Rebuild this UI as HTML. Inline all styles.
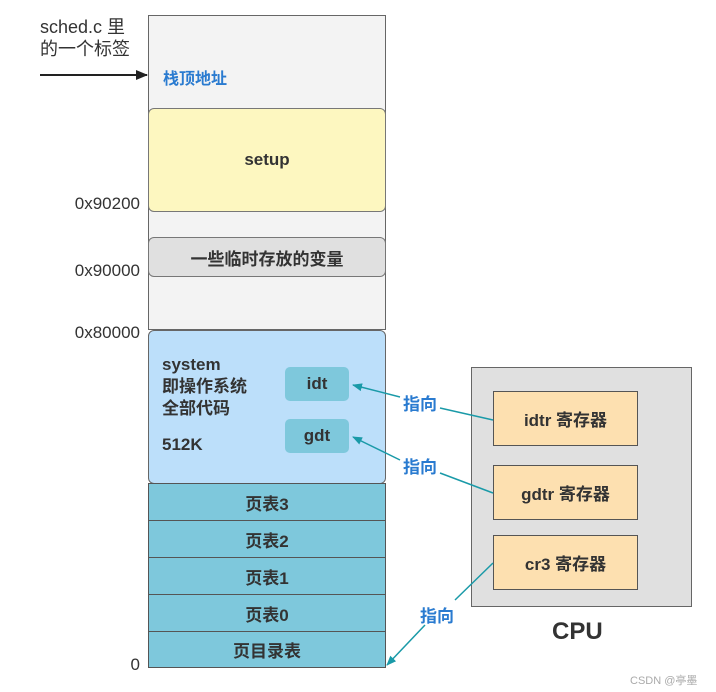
<!DOCTYPE html>
<html><head><meta charset="utf-8"><style>
body{margin:0;width:716px;height:692px;background:#fff;position:relative;overflow:hidden;font-family:"Liberation Sans","Noto Sans CJK SC",sans-serif;}
.a{position:absolute;box-sizing:border-box;}
.c{display:flex;align-items:center;justify-content:center;font-weight:bold;color:#333;font-size:17px;}
.lab{position:absolute;font-size:17px;color:#333;text-align:right;width:100px;}
.pt{background:#7ec8dc;border:1.5px solid #555;left:148px;width:238px;}
.reg{background:#fde0b0;border:1.5px solid #555;left:493px;width:145px;height:55px;}
</style></head><body>
<div class="a" style="left:148px;top:15px;width:238px;height:315px;background:#f3f3f3;border:1.5px solid #666;"></div>
<div class="a c" style="left:148px;top:108px;width:238px;height:104px;background:#fdf7c0;border:1.5px solid #777;border-radius:6px;">setup</div>
<div class="a c" style="left:148px;top:237px;width:238px;height:40px;background:#e0e0e0;border:1.5px solid #777;border-radius:6px;">一些临时存放的变量</div>
<div class="a" style="left:148px;top:330px;width:238px;height:154px;background:#bcdffa;border:1.5px solid #666;border-radius:6px;"></div>
<div class="a" style="left:162px;top:354px;font-weight:bold;color:#333;font-size:17px;line-height:22px;">system<br>即操作系统<br>全部代码<br><div style="margin-top:14px">512K</div></div>
<div class="a c" style="left:285px;top:367px;width:64px;height:34px;background:#7ec8dc;border-radius:5px;">idt</div>
<div class="a c" style="left:285px;top:419px;width:64px;height:34px;background:#7ec8dc;border-radius:5px;">gdt</div>
<div class="a c pt" style="top:483px;height:38px;">页表3</div>
<div class="a c pt" style="top:520px;height:38px;">页表2</div>
<div class="a c pt" style="top:557px;height:38px;">页表1</div>
<div class="a c pt" style="top:594px;height:38px;">页表0</div>
<div class="a c pt" style="top:631px;height:37px;">页目录表</div>
<div class="lab" style="left:40px;top:194px;">0x90200</div>
<div class="lab" style="left:40px;top:261px;">0x90000</div>
<div class="lab" style="left:40px;top:323px;">0x80000</div>
<div class="lab" style="left:40px;top:655px;">0</div>
<div class="a" style="left:40px;top:16px;font-size:18px;color:#333;line-height:22px;">sched.c 里<br>的一个标签</div>
<div class="a" style="left:163px;top:65px;font-size:16px;font-weight:bold;color:#2a7bd0;">栈顶地址</div>
<div class="a" style="left:471px;top:367px;width:221px;height:240px;background:#e0e0e0;border:1.5px solid #666;"></div>
<div class="a c reg" style="top:391px;">idtr 寄存器</div>
<div class="a c reg" style="top:465px;">gdtr 寄存器</div>
<div class="a c reg" style="top:535px;">cr3 寄存器</div>
<div class="a" style="left:552px;top:618px;font-size:24px;font-weight:bold;color:#333;">CPU</div>
<svg class="a" style="left:0;top:0" width="716" height="692">
<defs><marker id="m" markerWidth="10" markerHeight="10" refX="9" refY="5" orient="auto" markerUnits="userSpaceOnUse"><path d="M0,1 L10,5 L0,9 Z" fill="#1a9aa8"/></marker>
<marker id="k" markerWidth="12" markerHeight="10" refX="11" refY="5" orient="auto" markerUnits="userSpaceOnUse"><path d="M0,0 L12,5 L0,10 Z" fill="#222"/></marker></defs>
<line x1="40" y1="75" x2="147" y2="75" stroke="#222" stroke-width="2" marker-end="url(#k)"/>
<g stroke="#1a9aa8" stroke-width="1.5" fill="none">
<polyline points="493,420 440,408"/><line x1="400" y1="397" x2="353" y2="385" marker-end="url(#m)"/>
<polyline points="493,493 440,473"/><line x1="400" y1="460" x2="353" y2="437" marker-end="url(#m)"/>
<line x1="493" y1="563" x2="455" y2="600"/><line x1="425" y1="625" x2="387" y2="665" marker-end="url(#m)"/>
</g>
<g font-size="17" font-weight="bold" fill="#2a7bd0" font-family="Liberation Sans,Noto Sans CJK SC,sans-serif">
<text x="403" y="410">指向</text><text x="403" y="473">指向</text><text x="420" y="622">指向</text></g>
<text x="630" y="684" font-size="11" fill="#aaa" font-family="Liberation Sans,Noto Sans CJK SC,sans-serif">CSDN @亭墨</text>
</svg>
</body></html>
